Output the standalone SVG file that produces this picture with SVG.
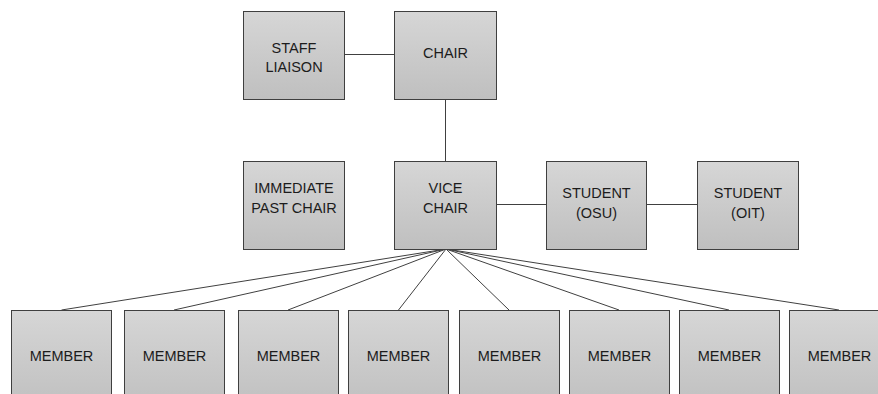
<svg xmlns="http://www.w3.org/2000/svg" width="878" height="394" viewBox="0 0 878 394">
<defs>
<linearGradient id="g" x1="0" y1="0" x2="0" y2="1">
<stop offset="0" stop-color="#d6d6d6"/>
<stop offset="1" stop-color="#bfbfbf"/>
</linearGradient>
<style>
.box{fill:url(#g);stroke:#3f3f3f;stroke-width:1}
.t{font-family:"Liberation Sans",Arial,sans-serif;font-size:14.5px;fill:#1c1c1c;text-anchor:middle}
.c{stroke:#404040;stroke-width:1;fill:none}
</style>
</defs>
<rect width="878" height="394" fill="#ffffff"/>
<g id="connectors">
<line class="c" x1="344" y1="54.5" x2="394" y2="54.5"/>
<line class="c" x1="445.5" y1="99" x2="445.5" y2="161"/>
<line class="c" x1="497" y1="204.5" x2="546" y2="204.5"/>
<line class="c" x1="647" y1="204.5" x2="697" y2="204.5"/>
<line class="c" x1="446" y1="249" x2="61.5" y2="310"/>
<line class="c" x1="446" y1="249" x2="174" y2="310"/>
<line class="c" x1="446" y1="249" x2="288" y2="310"/>
<line class="c" x1="446" y1="249" x2="398.5" y2="310"/>
<line class="c" x1="446" y1="249" x2="509" y2="310"/>
<line class="c" x1="446" y1="249" x2="619" y2="310"/>
<line class="c" x1="446" y1="249" x2="729" y2="310"/>
<line class="c" x1="446" y1="249" x2="839" y2="310"/>
</g>
<g id="staff-liaison"><rect class="box" x="243.5" y="11.5" width="101" height="88"/><text class="t" x="294" y="53">STAFF</text><text class="t" x="294" y="72">LIAISON</text></g>
<g id="chair"><rect class="box" x="394.5" y="11.5" width="102" height="88"/><text class="t" x="445.5" y="58">CHAIR</text></g>
<g id="immediate-past-chair"><rect class="box" x="243.5" y="161.5" width="101" height="88"/><text class="t" x="294" y="193">IMMEDIATE</text><text class="t" x="294" y="213">PAST CHAIR</text></g>
<g id="vice-chair"><rect class="box" x="394.5" y="161.5" width="102" height="88"/><text class="t" x="445.5" y="193">VICE</text><text class="t" x="445.5" y="213">CHAIR</text></g>
<g id="student-osu"><rect class="box" x="546.5" y="161.5" width="100" height="88"/><text class="t" x="596.5" y="198">STUDENT</text><text class="t" x="596.5" y="218">(OSU)</text></g>
<g id="student-oit"><rect class="box" x="697.5" y="161.5" width="101" height="88"/><text class="t" x="748" y="198">STUDENT</text><text class="t" x="748" y="218">(OIT)</text></g>
<g id="member-1"><rect class="box" x="11.5" y="310.5" width="100" height="100"/><text class="t" x="61.5" y="361">MEMBER</text></g>
<g id="member-2"><rect class="box" x="124.5" y="310.5" width="100" height="100"/><text class="t" x="174.5" y="361">MEMBER</text></g>
<g id="member-3"><rect class="box" x="238.5" y="310.5" width="100" height="100"/><text class="t" x="288.5" y="361">MEMBER</text></g>
<g id="member-4"><rect class="box" x="348.5" y="310.5" width="100" height="100"/><text class="t" x="398.5" y="361">MEMBER</text></g>
<g id="member-5"><rect class="box" x="459.5" y="310.5" width="100" height="100"/><text class="t" x="509.5" y="361">MEMBER</text></g>
<g id="member-6"><rect class="box" x="569.5" y="310.5" width="100" height="100"/><text class="t" x="619.5" y="361">MEMBER</text></g>
<g id="member-7"><rect class="box" x="679.5" y="310.5" width="100" height="100"/><text class="t" x="729.5" y="361">MEMBER</text></g>
<g id="member-8"><rect class="box" x="789.5" y="310.5" width="100" height="100"/><text class="t" x="839.5" y="361">MEMBER</text></g>
</svg>
